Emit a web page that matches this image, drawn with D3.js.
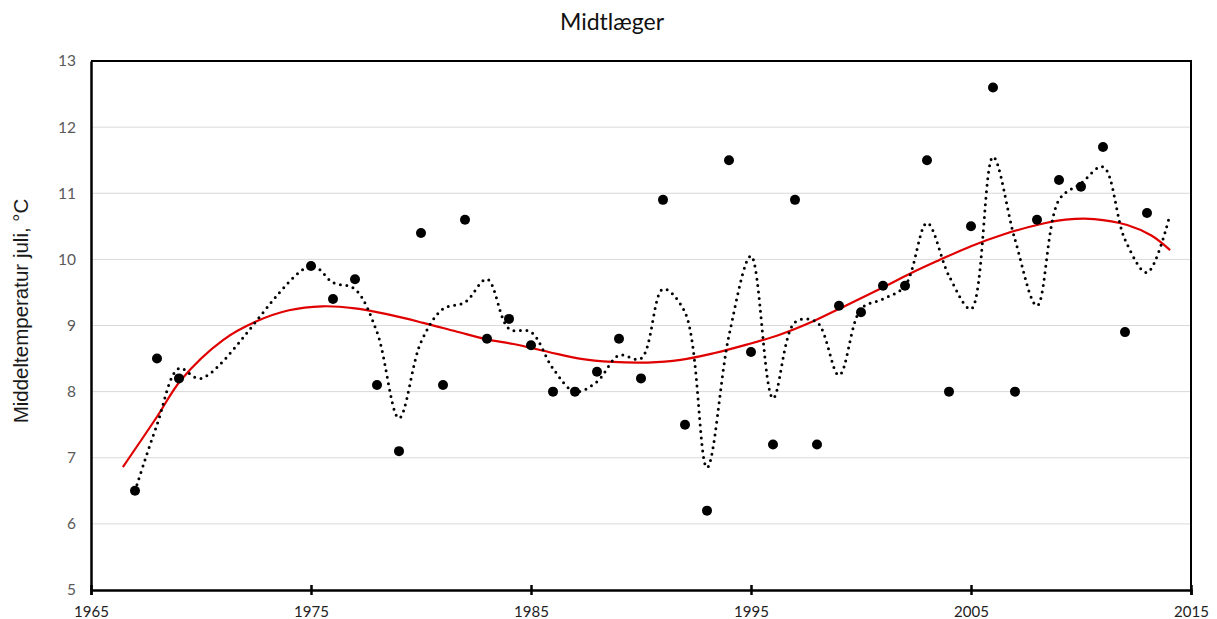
<!DOCTYPE html>
<html>
<head>
<meta charset="utf-8">
<script src="https://cdn.jsdelivr.net/npm/d3@7"></script>
<style>
  body { margin: 0; background: #fff; }
  svg { display: block; }
</style>
</head>
<body>
<div id="chart"></div>
<script>
  // measured July mean temperatures (dots)
  var years = [1967, 1968, 1969, 1975, 1976, 1977, 1978, 1979, 1980, 1981, 1982, 1983, 1984, 1985,
    1986, 1987, 1988, 1989, 1990, 1991, 1992, 1993, 1994, 1995, 1996, 1997, 1998, 1999, 2000,
    2001, 2002, 2003, 2004, 2005, 2006, 2007, 2008, 2009, 2010, 2011, 2012, 2013];
  var temps = [6.5, 8.5, 8.2, 9.9, 9.4, 9.7, 8.1, 7.1, 10.4, 8.1, 10.6, 8.8, 9.1, 8.7,
    8.0, 8.0, 8.3, 8.8, 8.2, 10.9, 7.5, 6.2, 11.5, 8.6, 7.2, 10.9, 7.2, 9.3, 9.2,
    9.6, 9.6, 11.5, 8.0, 10.5, 12.6, 8.0, 10.6, 11.2, 11.1, 11.7, 8.9, 10.7];

  // dotted moving-average line
  var avgYears = [1967, 1968, 1969, 1970, 1975, 1976, 1977, 1978, 1979, 1980, 1981, 1982, 1983, 1984,
    1985, 1986, 1987, 1988, 1989, 1990, 1991, 1992, 1993, 1994, 1995, 1996, 1997, 1998, 1999,
    2000, 2001, 2002, 2003, 2004, 2005, 2006, 2007, 2008, 2009, 2010, 2011, 2012, 2013, 2014];
  var avgTemps = [6.5, 7.5, 8.35, 8.2, 9.9, 9.65, 9.55, 8.9, 7.6, 8.75, 9.25, 9.35, 9.7, 8.95,
    8.9, 8.35, 8.0, 8.15, 8.55, 8.5, 9.55, 9.2, 6.85, 8.85, 10.05, 7.9, 9.05, 9.05, 8.25,
    9.25, 9.4, 9.6, 10.55, 9.75, 9.25, 11.55, 10.3, 9.3, 10.9, 11.15, 11.4, 10.3, 9.8, 10.62];

  // red polynomial trend
  var trendYears = [1966.45, 1968, 1969.1, 1971, 1972.5, 1974, 1975.5, 1977, 1978.6, 1980.1, 1981.6,
    1983, 1984.2, 1985.8, 1987.2, 1988.7, 1990.3, 1991.8, 1993.3, 1994.8, 1996.3, 1997.8,
    1999.3, 2000.9, 2002.2, 2003.5, 2005, 2006.5, 2008, 2009.3, 2010.6, 2012.1, 2013.2, 2014.05];
  var trendTemps = [6.86, 7.62, 8.18, 8.78, 9.06, 9.23, 9.29, 9.26, 9.16, 9.04, 8.91,
    8.79, 8.72, 8.6, 8.5, 8.45, 8.44, 8.48, 8.58, 8.71, 8.86, 9.06,
    9.3, 9.56, 9.78, 9.98, 10.2, 10.38, 10.52, 10.6, 10.61, 10.52, 10.36, 10.14];

  var yTicks = [5, 6, 7, 8, 9, 10, 11, 12, 13];
  var xTicks = [1965, 1975, 1985, 1995, 2005, 2015];

  var width = 1217, height = 619;
  var plotLeft = 91, plotRight = 1191, plotTop = 61, plotBottom = 590;

  var x = d3.scaleLinear().domain([1965, 2015]).range([plotLeft, plotRight]);
  var y = d3.scaleLinear().domain([5, 13]).range([plotBottom, plotTop]);

  var svg = d3.select("#chart").append("svg")
    .attr("width", width)
    .attr("height", height)
    .style("font-family", "Lato, 'Open Sans', sans-serif");

  // gridlines
  svg.append("g")
    .selectAll("line")
    .data(yTicks.filter(function (d) { return d > 5 && d < 13; }))
    .enter().append("line")
    .attr("x1", plotLeft).attr("x2", plotRight)
    .attr("y1", function (d) { return y(d); })
    .attr("y2", function (d) { return y(d); })
    .attr("stroke", "#d9d9d9")
    .attr("stroke-width", 1);

  // frame: top and right
  svg.append("path")
    .attr("d", "M" + plotLeft + "," + plotTop + "H" + plotRight + "V" + plotBottom)
    .attr("fill", "none")
    .attr("stroke", "#000")
    .attr("stroke-width", 2);

  // y axis
  var yAxis = svg.append("g")
    .attr("transform", "translate(" + plotLeft + ",0)")
    .call(d3.axisLeft(y).tickValues(yTicks).tickSize(0).tickPadding(15));
  yAxis.select(".domain").attr("stroke", "#000").attr("stroke-width", 2.5);
  yAxis.selectAll("text").attr("font-size", "15.5px").attr("fill", "#595959")
    .attr("font-family", "Lato, sans-serif");

  // x axis with crossing ticks
  var xAxis = svg.append("g")
    .attr("transform", "translate(0," + plotBottom + ")")
    .call(d3.axisBottom(x).tickValues(xTicks).tickFormat(d3.format("d")).tickSizeOuter(0).tickSize(5).tickPadding(11));
  xAxis.select(".domain").attr("stroke", "#000").attr("stroke-width", 2.5);
  xAxis.selectAll(".tick line").attr("y1", -5).attr("stroke", "#000").attr("stroke-width", 2.5);
  xAxis.selectAll("text").attr("font-size", "15px").attr("fill", "#222")
    .attr("font-family", "Lato, sans-serif");

  // red trend
  var trendLine = d3.line()
    .x(function (d) { return x(d[0]); })
    .y(function (d) { return y(d[1]); })
    .curve(d3.curveCatmullRom);
  svg.append("path")
    .datum(d3.zip(trendYears, trendTemps))
    .attr("d", trendLine)
    .attr("fill", "none")
    .attr("stroke", "#e00000")
    .attr("stroke-width", 2.2);

  // dotted moving average
  var avgLine = d3.line()
    .x(function (d) { return x(d[0]); })
    .y(function (d) { return y(d[1]); })
    .curve(d3.curveCatmullRom.alpha(0.5));
  svg.append("path")
    .datum(d3.zip(avgYears, avgTemps))
    .attr("d", avgLine)
    .attr("fill", "none")
    .attr("stroke", "#000")
    .attr("stroke-width", 3)
    .attr("stroke-linecap", "round")
    .attr("stroke-dasharray", "0,6.5");

  // dots
  svg.append("g")
    .selectAll("circle")
    .data(d3.zip(years, temps))
    .enter().append("circle")
    .attr("cx", function (d) { return x(d[0]); })
    .attr("cy", function (d) { return y(d[1]); })
    .attr("r", 5)
    .attr("fill", "#000");

  // title
  svg.append("text")
    .attr("x", 612)
    .attr("y", 30)
    .attr("text-anchor", "middle")
    .attr("font-size", "23px")
    .attr("fill", "#111")
    .text("Midtlæger");

  // y title
  svg.append("text")
    .attr("transform", "translate(28,311) rotate(-90)")
    .attr("text-anchor", "middle")
    .attr("font-family", "'Liberation Sans', Arial, sans-serif")
    .attr("font-size", "20.5px")
    .attr("fill", "#1a1a1a")
    .text("Middeltemperatur juli, °C");
</script>
</body>
</html>
